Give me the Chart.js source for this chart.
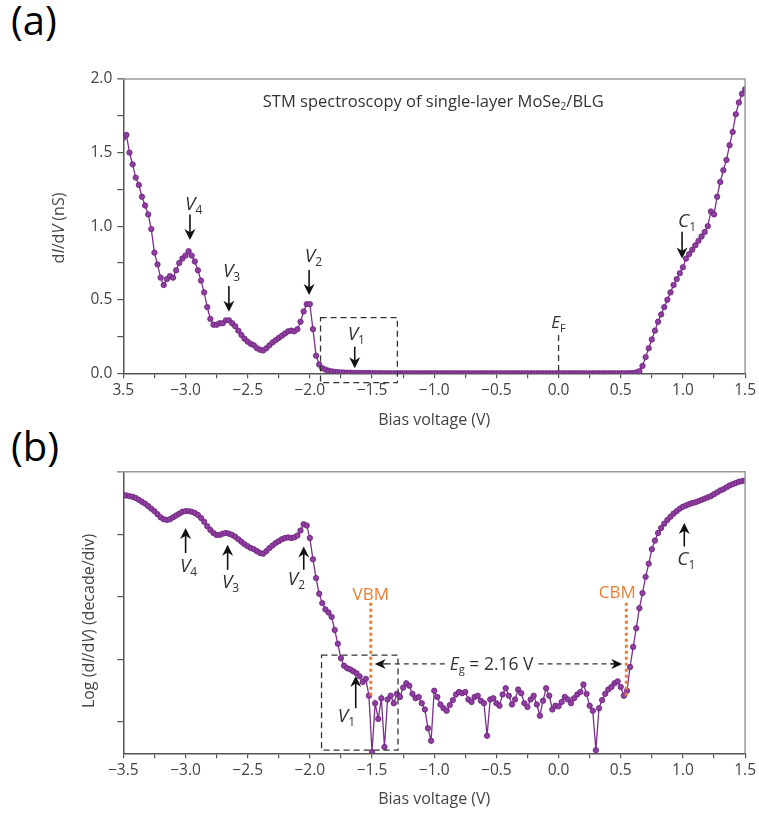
<!DOCTYPE html>
<html>
<head>
<meta charset="utf-8">
<script src="https://cdn.jsdelivr.net/npm/chart.js@4.4.0/dist/chart.umd.min.js"></script>
<style>
  body { margin: 0; background: #fff; }
  #page { position: relative; width: 759px; height: 814px; overflow: hidden; }
  .tag { position: absolute; left: 11px; font: 40px "Open Sans", sans-serif; line-height: 1; color: #000; }
  canvas { position: absolute; left: 0; }
</style>
</head>
<body>
<div id="page">
  <div class="tag" style="top:0px">(a)</div>
  <div class="tag" style="top:426px">(b)</div>
  <canvas id="panelA" width="759" height="380" style="top:60px"></canvas>
  <canvas id="panelB" width="759" height="364" style="top:450px"></canvas>
</div>
<script>
// bias sweep: -3.5 V to 1.5 V in 25 mV steps
const V_START = -3.5;
const V_STEP = 0.025;

// dI/dV (nS), one row per 0.25 V
const didvLinear = [
  1.60, 1.62, 1.50, 1.42, 1.33, 1.28, 1.20, 1.14, 1.08, 0.98,
  0.82, 0.74, 0.65, 0.60, 0.64, 0.66, 0.65, 0.70, 0.75, 0.78,
  0.80, 0.83, 0.80, 0.76, 0.70, 0.63, 0.55, 0.45, 0.37, 0.33,
  0.33, 0.34, 0.34, 0.36, 0.36, 0.34, 0.32, 0.29, 0.26, 0.235,
  0.215, 0.20, 0.19, 0.17, 0.16, 0.155, 0.17, 0.19, 0.21, 0.225,
  0.24, 0.255, 0.27, 0.285, 0.29, 0.285, 0.30, 0.35, 0.42, 0.47,
  0.47, 0.30, 0.12, 0.06, 0.035, 0.025, 0.018, 0.013, 0.010, 0.008,
  0.006, 0.005, 0.004, 0.004, 0.003, 0.003, 0.002, 0.002, 0.002, 0.002,
  0.001, 0.001, 0.001, 0.001, 0, 0, 0, 0, 0, 0,
  0, 0, 0, 0, 0, 0, 0, 0, 0, 0,
  0, 0, 0, 0, 0, 0, 0, 0, 0, 0,
  0, 0, 0, 0, 0, 0, 0, 0, 0, 0,
  0, 0, 0, 0, 0, 0, 0, 0, 0, 0,
  0, 0, 0, 0, 0, 0, 0, 0, 0, 0,
  0, 0, 0, 0, 0, 0, 0, 0, 0, 0,
  0, 0, 0, 0, 0, 0, 0, 0, 0, 0,
  0, 0, 0, 0.001, 0.002, 0.006, 0.015, 0.05, 0.11, 0.17,
  0.23, 0.29, 0.35, 0.40, 0.45, 0.50, 0.55, 0.60, 0.64, 0.68,
  0.72, 0.78, 0.81, 0.84, 0.87, 0.90, 0.93, 0.96, 1.00, 1.10,
  1.08, 1.20, 1.30, 1.38, 1.45, 1.55, 1.64, 1.76, 1.84, 1.90,
  1.93
];

// log10(dI/dV), in decades, same sweep
const didvLog = [
  3.63, 3.62, 3.61, 3.60, 3.58, 3.55, 3.52, 3.49, 3.45, 3.41,
  3.37, 3.32, 3.27, 3.24, 3.23, 3.24, 3.27, 3.30, 3.33, 3.36,
  3.37, 3.37, 3.36, 3.34, 3.31, 3.26, 3.20, 3.13, 3.07, 3.02,
  2.99, 2.99, 3.01, 3.02, 3.01, 2.99, 2.96, 2.92, 2.88, 2.84,
  2.81, 2.78, 2.76, 2.73, 2.70, 2.69, 2.73, 2.78, 2.82, 2.86,
  2.89, 2.92, 2.94, 2.95, 2.94, 2.95, 2.98, 3.06, 3.16, 3.14,
  2.94, 2.60, 2.30, 2.05, 1.90, 1.80, 1.75, 1.68, 1.47, 1.25,
  1.02, 0.90, 0.86, 0.84, 0.81, 0.78, 0.73, 0.64, 0.69, 0.42,
  -0.48, 0.30, 0.05, 0.38, -0.40, 0.36, 0.42, 0.30, 0.45, 0.40,
  0.55, 0.62, 0.58, 0.45, 0.38, 0.40, 0.30, 0.20, -0.10, -0.30,
  0.50, 0.40, 0.28, 0.22, 0.18, 0.27, 0.35, 0.44, 0.48, 0.46,
  0.48, 0.36, 0.32, 0.40, 0.42, 0.34, 0.30, -0.22, 0.36, 0.38,
  0.30, 0.26, 0.44, 0.54, 0.42, 0.28, 0.36, 0.52, 0.46, 0.30,
  0.24, 0.36, 0.42, 0.28, 0.10, 0.34, 0.54, 0.42, 0.20, 0.26,
  0.25, 0.32, 0.40, 0.36, 0.30, 0.38, 0.44, 0.48, 0.60, 0.45,
  0.26, 0.18, -0.45, 0.22, 0.35, 0.45, 0.52, 0.56, 0.62, 0.65,
  0.56, 0.42, 0.50, 0.88, 1.20, 1.50, 1.82, 2.06, 2.32, 2.53,
  2.76, 2.90, 3.02, 3.10, 3.17, 3.23, 3.28, 3.33, 3.37, 3.41,
  3.44, 3.46, 3.48, 3.50, 3.51, 3.53, 3.55, 3.57, 3.59, 3.61,
  3.64, 3.67, 3.70, 3.72, 3.75, 3.78, 3.80, 3.82, 3.84, 3.85,
  3.86
];

const xTickTextA = ['3.5', '−3.0', '−2.5', '−2.0', '−1.5', '−1.0', '−0.5', '0.0', '0.5', '1.0', '1.5'];
const xTickTextB = ['−3.5', '−3.0', '−2.5', '−2.0', '−1.5', '−1.0', '−0.5', '0.0', '0.5', '1.0', '1.5'];
const yTickTextA = ['0.0', '0.5', '1.0', '1.5', '2.0'];
const logDecades = [0, 1, 2, 3, 4];

// band edges
const VBM = -1.51;
const CBM = 0.545;
const gapText = '= 2.16 V';

const FAMILY = '"Open Sans", sans-serif';
const INK = '#333';
const AXIS = '#555';
const ORANGE = '#ea7d33';

const toPoints = vals => vals.map((y, i) => ({ x: +(V_START + i * V_STEP).toFixed(3), y }));

// label every 0.5 V / 0.5 nS, leave the quarter ticks bare
function halfStep(list, start) {
  return v => {
    const k = (v - start) / 0.5;
    const r = Math.round(k);
    return Math.abs(k - r) < 1e-6 ? (list[r] || '') : '';
  };
}

// pieces: [text, kind], kind '' upright, 'i' italic, 'sub' subscript
function rich(ctx, pieces, x, y, size, color, align) {
  const fontOf = k => (k === 'i' ? 'italic ' : '') + (k === 'sub' ? Math.round(size * 0.62) : size) + 'px ' + FAMILY;
  let w = 0;
  for (const [t, k] of pieces) { ctx.font = fontOf(k); w += ctx.measureText(t).width; }
  let cx = align === 'center' ? x - w / 2 : x;
  ctx.fillStyle = color;
  ctx.textAlign = 'left';
  ctx.textBaseline = 'alphabetic';
  for (const [t, k] of pieces) {
    ctx.font = fontOf(k);
    ctx.fillText(t, cx, k === 'sub' ? y + size * 0.2 : y);
    cx += ctx.measureText(t).width;
  }
  return w;
}

function arrow(ctx, x1, y1, x2, y2, head, half) {
  const a = Math.atan2(y2 - y1, x2 - x1);
  const c = Math.cos(a), s = Math.sin(a);
  const bx = x2 - head * c, by = y2 - head * s;
  ctx.beginPath();
  ctx.moveTo(x1, y1);
  ctx.lineTo(x2 - head * 0.6 * c, y2 - head * 0.6 * s);
  ctx.stroke();
  ctx.beginPath();
  ctx.moveTo(x2, y2);
  ctx.lineTo(bx - half * s, by + half * c);
  ctx.lineTo(x2 - head * 0.7 * c, y2 - head * 0.7 * s);
  ctx.lineTo(bx + half * s, by - half * c);
  ctx.closePath();
  ctx.fill();
}

function frame(chart) {
  const { ctx, chartArea: a } = chart;
  ctx.save();
  ctx.strokeStyle = '#9a9a9a';
  ctx.lineWidth = 1.5;
  ctx.beginPath();
  ctx.moveTo(a.left - 6, a.top);
  ctx.lineTo(a.right, a.top);
  ctx.lineTo(a.right, a.bottom);
  ctx.stroke();
  ctx.restore();
}

function yTitle(ctx, pieces, x, y) {
  ctx.save();
  ctx.translate(x, y);
  ctx.rotate(-Math.PI / 2);
  rich(ctx, pieces, 0, 16 * 0.35, 16, '#444', 'center');
  ctx.restore();
}

function dashedBox(ctx, X, Y, x0, x1, y0, y1) {
  ctx.save();
  ctx.strokeStyle = INK;
  ctx.lineWidth = 1.3;
  ctx.setLineDash([6, 4]);
  ctx.strokeRect(X(x0), Y(y1), X(x1) - X(x0), Y(y0) - Y(y1));
  ctx.restore();
}

// [subscript, label left x, label baseline y, arrow x, arrow from, arrow to]
const peaksA = [
  ['4', -3.004, 1.109, -2.964, 1.080, 0.906],
  ['3', -2.699, 0.654, -2.651, 0.593, 0.419],
  ['2', -2.041, 0.756, -2.006, 0.702, 0.532],
  ['1', -1.696, 0.226, -1.639, 0.181, 0.034]
];
const peaksB = [
  ['4', -3.045, 2.40, -2.999, 2.70, 3.10],
  ['3', -2.707, 2.145, -2.661, 2.433, 2.833],
  ['2', -2.177, 2.193, -2.049, 2.433, 2.806],
  ['1', -1.776, 0.001, -1.631, 0.22, 0.737]
];

const notesA = {
  id: 'notesA',
  afterDraw(chart) {
    const { ctx, scales: { x, y } } = chart;
    const X = v => x.getPixelForValue(v), Y = v => y.getPixelForValue(v);
    frame(chart);
    ctx.save();
    rich(ctx, [['STM spectroscopy of single-layer MoSe', ''], ['2', 'sub'], ['/BLG', '']], X(-1.008), Y(1.811), 16.5, INK, 'center');
    ctx.strokeStyle = '#111';
    ctx.lineWidth = 1.6;
    for (const [n, lx, ly, ax, a0, a1] of peaksA) {
      rich(ctx, [['V', 'i'], [n, 'sub']], X(lx), Y(ly), 19, INK);
      ctx.fillStyle = '#111';
      arrow(ctx, X(ax), Y(a0), X(ax), Y(a1), 11, 5.5);
    }
    rich(ctx, [['C', 'i'], ['1', 'sub']], X(0.961), Y(0.996), 19, INK);
    ctx.fillStyle = '#111';
    arrow(ctx, X(0.993), Y(0.962), X(0.993), Y(0.781), 11, 5.5);
    // Fermi level
    rich(ctx, [['E', 'i'], ['F', 'sub']], X(-0.059), Y(0.306), 17, INK);
    ctx.save();
    ctx.setLineDash([6, 4]);
    ctx.lineWidth = 1.3;
    ctx.strokeStyle = INK;
    ctx.beginPath();
    ctx.moveTo(X(0), Y(0.261));
    ctx.lineTo(X(0), Y(0));
    ctx.stroke();
    ctx.restore();
    dashedBox(ctx, X, Y, -1.914, -1.296, -0.064, 0.378);
    yTitle(ctx, [['d', ''], ['I', 'i'], ['/d', ''], ['V', 'i'], [' (nS)', '']], 58, 168);
    ctx.restore();
  }
};

const notesB = {
  id: 'notesB',
  afterDraw(chart) {
    const { ctx, scales: { x, y } } = chart;
    const X = v => x.getPixelForValue(v), Y = v => y.getPixelForValue(v);
    frame(chart);
    ctx.save();
    ctx.strokeStyle = '#111';
    ctx.lineWidth = 1.6;
    for (const [n, lx, ly, ax, a0, a1] of peaksB) {
      rich(ctx, [['V', 'i'], [n, 'sub']], X(lx), Y(ly), 19, INK);
      ctx.fillStyle = '#111';
      arrow(ctx, X(ax), Y(a0), X(ax), Y(a1), 11, 5.5);
    }
    rich(ctx, [['C', 'i'], ['1', 'sub']], X(0.955), Y(2.513), 19, INK);
    ctx.fillStyle = '#111';
    arrow(ctx, X(1.011), Y(2.806), X(1.011), Y(3.18), 11, 5.5);

    // band edges
    ctx.font = '17px ' + FAMILY;
    ctx.fillStyle = ORANGE;
    ctx.textAlign = 'center';
    ctx.textBaseline = 'alphabetic';
    ctx.fillText('VBM', X(VBM), Y(1.953));
    ctx.fillText('CBM', X(CBM) - 9, Y(1.985));
    ctx.save();
    ctx.strokeStyle = ORANGE;
    ctx.lineWidth = 3;
    ctx.setLineDash([3, 3]);
    for (const e of [VBM, CBM]) {
      ctx.beginPath();
      ctx.moveTo(X(e), Y(1.906));
      ctx.lineTo(X(e), Y(0.385));
      ctx.stroke();
    }
    ctx.restore();

    // gap arrow with its label in the middle
    const gy = Y(0.929);
    const left = X(VBM) + 4, right = X(CBM) - 4;
    const mid = X(-0.538);
    ctx.save();
    const tw = rich(ctx, [['E', 'i'], ['g', 'sub'], [' ' + gapText, '']], mid, gy + 6, 17.5, INK, 'center');
    ctx.strokeStyle = INK;
    ctx.fillStyle = '#111';
    ctx.lineWidth = 1.3;
    ctx.setLineDash([5, 4]);
    ctx.beginPath();
    ctx.moveTo(mid - tw / 2 - 5, gy);
    ctx.lineTo(left + 8, gy);
    ctx.moveTo(mid + tw / 2 + 5, gy);
    ctx.lineTo(right - 8, gy);
    ctx.stroke();
    ctx.setLineDash([]);
    arrow(ctx, left + 12, gy, left, gy, 11, 5);
    arrow(ctx, right - 12, gy, right, gy, 11, 5);
    ctx.restore();

    dashedBox(ctx, X, Y, -1.906, -1.291, -0.45, 1.07);
    yTitle(ctx, [['Log (d', ''], ['I', 'i'], ['/d', ''], ['V', 'i'], [') (decade/div)', '']], 88, 171);
    ctx.restore();
  }
};

const trace = {
  borderColor: '#7d2f8c',
  borderWidth: 1.3,
  pointRadius: 2.7,
  pointBackgroundColor: '#8e3f9f',
  pointBorderColor: '#6b1f7b',
  pointBorderWidth: 0.8,
  tension: 0
};

const tickFont = { family: FAMILY, size: 15.5 };

function xAxis(labels, height, titleGap) {
  return {
    type: 'linear',
    min: -3.5,
    max: 1.5,
    ticks: { stepSize: 0.25, autoSkip: false, maxRotation: 0, padding: 3, color: '#444', font: tickFont, callback: halfStep(labels, -3.5) },
    grid: { drawOnChartArea: false, drawTicks: true, tickLength: 5, color: AXIS, lineWidth: 1.2 },
    border: { color: AXIS, width: 1.5 },
    title: { display: true, text: 'Bias voltage (V)', color: '#444', font: { family: FAMILY, size: 16 }, padding: { top: 0, bottom: titleGap } },
    afterFit: s => { s.height = height; }
  };
}

const common = {
  responsive: false,
  devicePixelRatio: 1,
  animation: false,
  plugins: { legend: { display: false }, tooltip: { enabled: false } }
};

new Chart(document.getElementById('panelA'), {
  type: 'line',
  data: { datasets: [Object.assign({ data: toPoints(didvLinear) }, trace)] },
  options: Object.assign({}, common, {
    layout: { padding: { left: 0, right: 13.5, top: 19, bottom: 0 } },
    scales: {
      x: xAxis(xTickTextA, 66.7, 10.4),
      y: {
        min: 0,
        max: 2,
        ticks: { stepSize: 0.25, padding: 5, color: '#444', font: tickFont, callback: halfStep(yTickTextA, 0) },
        grid: { drawOnChartArea: false, drawTicks: true, tickLength: 6, color: AXIS, lineWidth: 1.2 },
        border: { color: AXIS, width: 1.5 },
        afterFit: s => { s.width = 123.3; }
      }
    }
  }),
  plugins: [notesA]
});

new Chart(document.getElementById('panelB'), {
  type: 'line',
  data: { datasets: [Object.assign({ data: toPoints(didvLog) }, trace)] },
  options: Object.assign({}, common, {
    layout: { padding: { left: 0, right: 13.3, top: 21.7, bottom: 0 } },
    scales: {
      x: xAxis(xTickTextB, 60.7, 5.4),
      y: {
        min: -0.5,
        max: 4,
        afterBuildTicks: s => { s.ticks = logDecades.map(v => ({ value: v })); },
        ticks: { callback: () => '' },
        grid: { drawOnChartArea: false, drawTicks: true, tickLength: 6, color: AXIS, lineWidth: 1.2 },
        border: { color: AXIS, width: 1.5 },
        afterFit: s => { s.width = 123.3; }
      }
    }
  }),
  plugins: [notesB]
});
</script>
</body>
</html>
